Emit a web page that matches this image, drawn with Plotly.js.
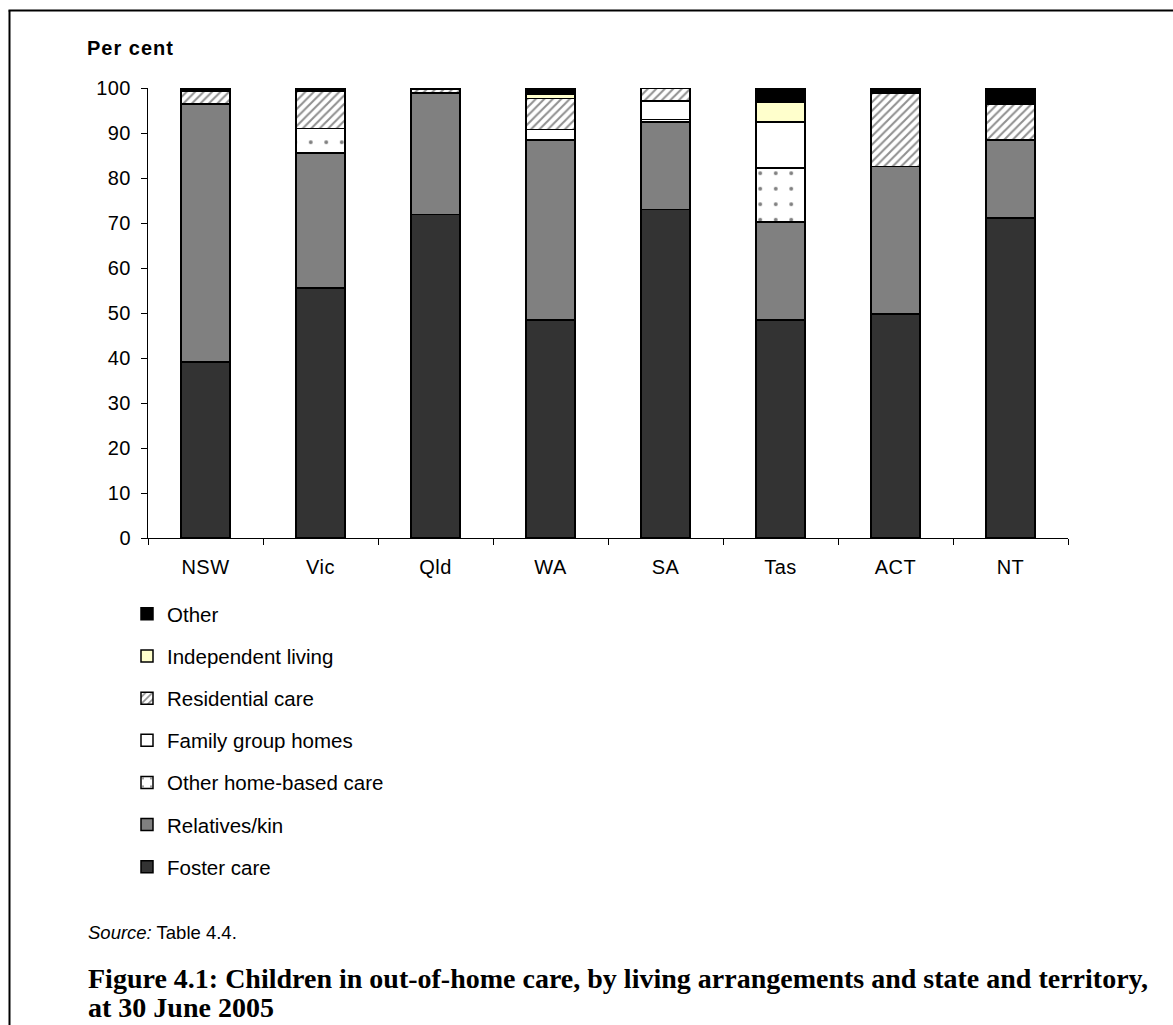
<!DOCTYPE html>
<html>
<head>
<meta charset="utf-8">
<script src="https://cdn.plot.ly/plotly-3.0.1.min.js"></script>
<style>
  html, body { margin: 0; padding: 0; background: #fff; overflow: hidden; }
  #chart { width: 1173px; height: 1025px; }
  #chart .xtick text, #chart .ytick text { letter-spacing: 0.5px; }
  #chart .annotation-text.spaced { letter-spacing: 1px; }
</style>
</head>
<body>
<div id="chart"></div>
<script>
// States and territories
const states = ['NSW', 'Vic', 'Qld', 'WA', 'SA', 'Tas', 'ACT', 'NT'];

// Per cent of children in each living arrangement (stacked bottom to top)
const fosterCare       = [39.1, 55.6, 71.9, 48.4, 73.0, 48.4, 49.8, 71.1];
const relativesKin     = [57.3, 30.0, 27.0, 40.1, 19.4, 21.8, 32.8, 17.3];
const otherHomeBased   = [0.0, 5.4, 0.0, 0.0, 0.6, 12.0, 0.0, 0.0];
const familyGroupHomes = [0.0, 0.0, 0.0, 2.3, 4.1, 10.2, 0.0, 0.0];
const residentialCare  = [2.9, 8.3, 0.9, 6.9, 2.9, 0.0, 16.3, 7.9];
const independentLiving= [0.0, 0.0, 0.0, 1.0, 0.0, 4.4, 0.0, 0.0];
const otherArrangement = [0.7, 0.7, 0.2, 1.3, 0.0, 3.2, 1.1, 3.7];

const yTicks = [0, 10, 20, 30, 40, 50, 60, 70, 80, 90, 100];

// Plot area in pixels
const W = 1173, H = 1025;
const PL = 148, PR = 1068, PT = 88, PB = 538;
const px = x => (x - PL) / (PR - PL);
const py = y => (PB - y) / (PB - PT);

const SANS = 'Liberation Sans, Arial, sans-serif';
const SERIF = 'Palatino Linotype, Book Antiqua, Palatino, Liberation Serif, serif';

// legend lists the top of the stack first
function series(name, values, color, pattern, rank) {
  const marker = { color: color, line: { color: '#000', width: 1.5 } };
  if (pattern) marker.pattern = pattern;
  return {
    type: 'bar', name: name, x: states, y: values,
    marker: marker, legendgroup: 'g' + rank, legendrank: rank, hoverinfo: 'name+y'
  };
}

const traces = [
  series('Foster care', fosterCare, '#333333', null, 7),
  series('Relatives/kin', relativesKin, '#808080', null, 6),
  series('Other home-based care', otherHomeBased, '#ffffff',
         { shape: '.', fgcolor: '#000', bgcolor: '#fff', size: 15.5, solidity: 0.05, fillmode: 'overlay' }, 5),
  series('Family group homes', familyGroupHomes, '#ffffff', null, 4),
  series('Residential care', residentialCare, '#ffffff',
         { shape: '/', fgcolor: '#222', bgcolor: '#fff', size: 6, solidity: 0.35, fillmode: 'overlay' }, 3),
  series('Independent living', independentLiving, '#ffffcc', null, 2),
  series('Other', otherArrangement, '#000000', null, 1)
];

const layout = {
  width: W, height: H,
  margin: { l: PL, r: W - PR, t: PT, b: H - PB, pad: 0 },
  paper_bgcolor: '#fff', plot_bgcolor: '#fff',
  barmode: 'stack',
  bargap: 0.57,
  font: { family: SANS, size: 20, color: '#000' },
  xaxis: {
    type: 'category',
    showline: true, linecolor: '#000', linewidth: 1,
    ticks: 'outside', tickson: 'boundaries', ticklen: 6, tickcolor: '#000', tickwidth: 1,
    ticklabelstandoff: 11,
    showgrid: false, zeroline: false,
    tickfont: { family: SANS, size: 20, color: '#000' }
  },
  yaxis: {
    range: [0, 100], tickvals: yTicks, ticktext: yTicks.map(String),
    showline: true, linecolor: '#000', linewidth: 1,
    ticks: 'outside', ticklen: 6, tickcolor: '#000', tickwidth: 1,
    ticklabelstandoff: 6,
    showgrid: false, zeroline: false,
    tickfont: { family: SANS, size: 20, color: '#000' }
  },
  showlegend: true,
  legend: {
    x: px(127), xanchor: 'left',
    y: py(594), yanchor: 'top',
    traceorder: 'grouped',
    tracegroupgap: 12.5,
    font: { family: SANS, size: 20.5, color: '#000' },
    bgcolor: 'rgba(0,0,0,0)', borderwidth: 0
  },
  annotations: [
    { text: '<b>Per cent</b>', xref: 'paper', yref: 'paper', x: px(89), y: py(48),
      xanchor: 'left', yanchor: 'middle', showarrow: false,
      font: { family: SANS, size: 20, color: '#000' } },
    { text: '<i>Source:</i> Table 4.4.', xref: 'paper', yref: 'paper', x: px(86), y: py(932),
      xanchor: 'left', yanchor: 'middle', showarrow: false,
      font: { family: SANS, size: 18.5, color: '#000' } },
    { text: '<b>Figure 4.1: Children in out-of-home care, by living arrangements and state and territory,</b>',
      xref: 'paper', yref: 'paper', x: px(86), y: py(978),
      xanchor: 'left', yanchor: 'middle', showarrow: false,
      font: { family: SERIF, size: 28, color: '#000' } },
    { text: '<b>at 30 June 2005</b>',
      xref: 'paper', yref: 'paper', x: px(86), y: py(1008),
      xanchor: 'left', yanchor: 'middle', showarrow: false,
      font: { family: SERIF, size: 28, color: '#000' } }
  ],
  shapes: [
    // page frame: left and top edges
    { type: 'line', xref: 'paper', yref: 'paper',
      x0: px(9.5), y0: py(1100), x1: px(9.5), y1: py(10.5),
      line: { color: '#000', width: 2 }, layer: 'above' },
    { type: 'line', xref: 'paper', yref: 'paper',
      x0: px(8.5), y0: py(10.5), x1: px(1250), y1: py(10.5),
      line: { color: '#000', width: 2 }, layer: 'above' }
  ]
};

Plotly.newPlot('chart', traces, layout, { displayModeBar: false, staticPlot: true }).then(gd => {
  // widen the "Per cent" heading slightly
  const t = gd.querySelectorAll('.annotation-text')[0];
  if (t) t.classList.add('spaced');
});
</script>
</body>
</html>
